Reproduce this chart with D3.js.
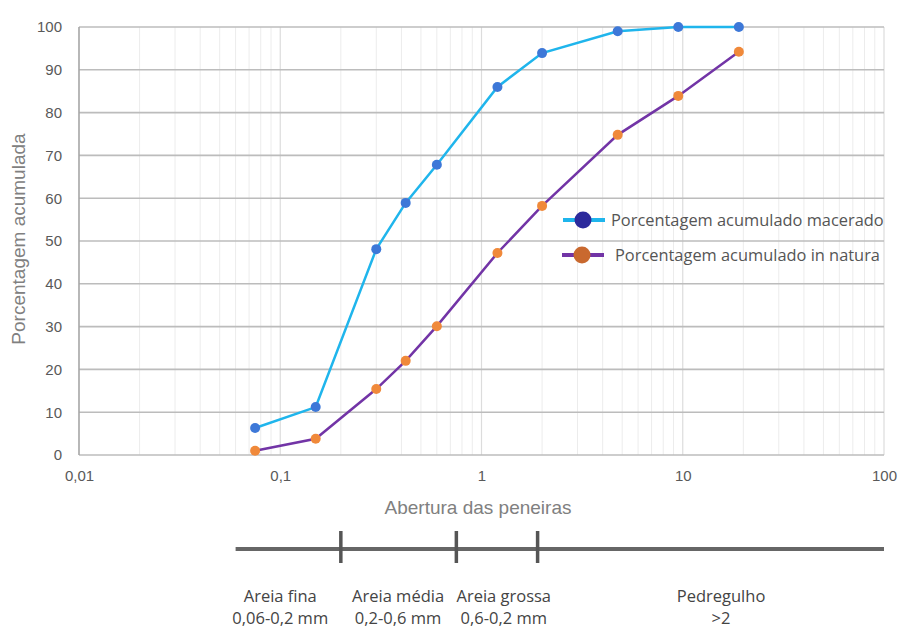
<!DOCTYPE html>
<html>
<head>
<meta charset="utf-8">
<script src="https://cdn.jsdelivr.net/npm/d3@7"></script>
<style>
  body { margin: 0; background: #fff; }
  svg { display: block; }
</style>
</head>
<body>
<div id="chart"></div>
<script>
// sieve openings (mm) and cumulative percentages
const sieves = [0.075, 0.15, 0.3, 0.42, 0.6, 1.2, 2.0, 4.75, 9.5, 19];
const macerado = [6.3, 11.2, 48.1, 58.9, 67.8, 86, 93.9, 99, 100, 100];
const inNatura = [1, 3.8, 15.4, 22, 30.1, 47.2, 58.2, 74.8, 83.9, 94.2];

const xTicks = [0.01, 0.1, 1, 10, 100];
const xTickLabels = ["0,01", "0,1", "1", "10", "100"];
const yTicks = [0, 10, 20, 30, 40, 50, 60, 70, 80, 90, 100];

const seriesNames = ["Porcentagem acumulado macerado", "Porcentagem acumulado in natura"];

// grain size classes drawn on the scale below the chart
const classStart = 0.06;
const classBreaks = [0.2, 0.75, 1.9];
const classEnd = 100;
const classNames = ["Areia fina", "Areia média", "Areia grossa", "Pedregulho"];
const classRanges = ["0,06-0,2 mm", "0,2-0,6 mm", "0,6-0,2 mm", ">2"];
const classCenters = [0.1, 0.385, 1.29, 15.5];

const width = 901, height = 628;
const plotLeft = 79, plotRight = 884, plotTop = 27, plotBottom = 455;

const svg = d3.select("#chart").append("svg")
  .attr("width", width)
  .attr("height", height);

const x = d3.scaleLog().domain([0.01, 100]).range([plotLeft, plotRight]);
const y = d3.scaleLinear().domain([0, 100]).range([plotBottom, plotTop]);

// minor vertical grid
const minor = [];
for (let d = 0.01; d < 100; d *= 10) {
  for (let k = 2; k <= 9; k++) minor.push(d * k);
}
svg.append("g").selectAll("line").data(minor).join("line")
  .attr("x1", d => x(d)).attr("x2", d => x(d))
  .attr("y1", plotTop).attr("y2", plotBottom)
  .attr("stroke", "#ececec").attr("stroke-width", 1);

svg.append("g").selectAll("line").data(xTicks.slice(1)).join("line")
  .attr("x1", d => x(d)).attr("x2", d => x(d))
  .attr("y1", plotTop).attr("y2", plotBottom)
  .attr("stroke", "#dcdcdc").attr("stroke-width", 1.2);

// horizontal grid
svg.append("g").selectAll("line").data(yTicks).join("line")
  .attr("x1", plotLeft).attr("x2", plotRight)
  .attr("y1", d => y(d)).attr("y2", d => y(d))
  .attr("stroke", "#bcbcbc").attr("stroke-width", 1.6);

// left axis line
svg.append("line")
  .attr("x1", plotLeft).attr("x2", plotLeft).attr("y1", plotTop).attr("y2", plotBottom)
  .attr("stroke", "#a6a6a6").attr("stroke-width", 1.6);

// axes
const yAxis = svg.append("g")
  .attr("transform", `translate(${plotLeft - 17},0)`)
  .call(d3.axisLeft(y).tickValues(yTicks).tickSize(0).tickPadding(0));
yAxis.select(".domain").remove();
yAxis.selectAll("text")
  .attr("fill", "#595959")
  .style("font-family", "Liberation Sans, Arial, sans-serif")
  .style("font-size", "15px");

const xAxis = svg.append("g")
  .attr("transform", `translate(0,${plotBottom + 15})`)
  .call(d3.axisBottom(x).tickValues(xTicks).tickFormat((d, i) => xTickLabels[i]).tickSize(0).tickPadding(0));
xAxis.select(".domain").remove();
xAxis.selectAll("text")
  .attr("fill", "#595959")
  .style("font-family", "Liberation Sans, Arial, sans-serif")
  .style("font-size", "15px");

svg.append("text")
  .attr("x", 478).attr("y", 514)
  .attr("text-anchor", "middle")
  .attr("fill", "#808080")
  .style("font-family", "Liberation Sans, Arial, sans-serif")
  .style("font-size", "19px")
  .text("Abertura das peneiras");

svg.append("text")
  .attr("transform", `translate(25,${(plotTop + plotBottom) / 2 - 2}) rotate(-90)`)
  .attr("text-anchor", "middle")
  .attr("fill", "#808080")
  .style("font-family", "Liberation Sans, Arial, sans-serif")
  .style("font-size", "19px")
  .text("Porcentagem acumulada");

// series
const line = d3.line().x(d => x(d[0])).y(d => y(d[1]));
const series = [
  { values: macerado, line: "#1fb5ec", marker: "#3d78d8", legendMarker: "#2c2a9c" },
  { values: inNatura, line: "#7234a6", marker: "#f0893a", legendMarker: "#c9692f" }
];

series.forEach(s => {
  const pts = sieves.map((v, i) => [v, s.values[i]]);
  svg.append("path")
    .datum(pts)
    .attr("d", line)
    .attr("fill", "none")
    .attr("stroke", s.line)
    .attr("stroke-width", 2.5);
  svg.append("g").selectAll("circle").data(pts).join("circle")
    .attr("cx", d => x(d[0])).attr("cy", d => y(d[1]))
    .attr("r", 5)
    .attr("fill", s.marker);
});

// legend
const legend = svg.append("g");
series.forEach((s, i) => {
  const ly = 220 + i * 35;
  const lx = 563 - i;
  legend.append("line")
    .attr("x1", lx).attr("x2", lx + 42).attr("y1", ly).attr("y2", ly)
    .attr("stroke", s.line).attr("stroke-width", 4);
  legend.append("circle")
    .attr("cx", lx + 20).attr("cy", ly).attr("r", 8.5)
    .attr("fill", s.legendMarker);
  legend.append("text")
    .attr("x", 611 + i * 4).attr("y", ly + 6)
    .attr("fill", "#555")
    .style("font-family", "Open Sans, sans-serif")
    .style("font-size", "16.4px")
    .text(seriesNames[i]);
});

// grain size scale
const sy = 549;
svg.append("line")
  .attr("x1", x(classStart)).attr("x2", x(classEnd))
  .attr("y1", sy).attr("y2", sy)
  .attr("stroke", "#666").attr("stroke-width", 4);
svg.append("g").selectAll("line").data(classBreaks).join("line")
  .attr("x1", d => x(d)).attr("x2", d => x(d))
  .attr("y1", sy - 18).attr("y2", sy + 14)
  .attr("stroke", "#555").attr("stroke-width", 3.5);

const labels = svg.append("g")
  .style("font-family", "Open Sans, sans-serif")
  .style("font-size", "16.5px")
  .attr("fill", "#444")
  .attr("text-anchor", "middle");
classNames.forEach((n, i) => {
  labels.append("text")
    .attr("x", x(classCenters[i])).attr("y", 602)
    .text(n);
  labels.append("text")
    .attr("x", x(classCenters[i])).attr("y", 624)
    .text(classRanges[i]);
});
</script>
</body>
</html>
